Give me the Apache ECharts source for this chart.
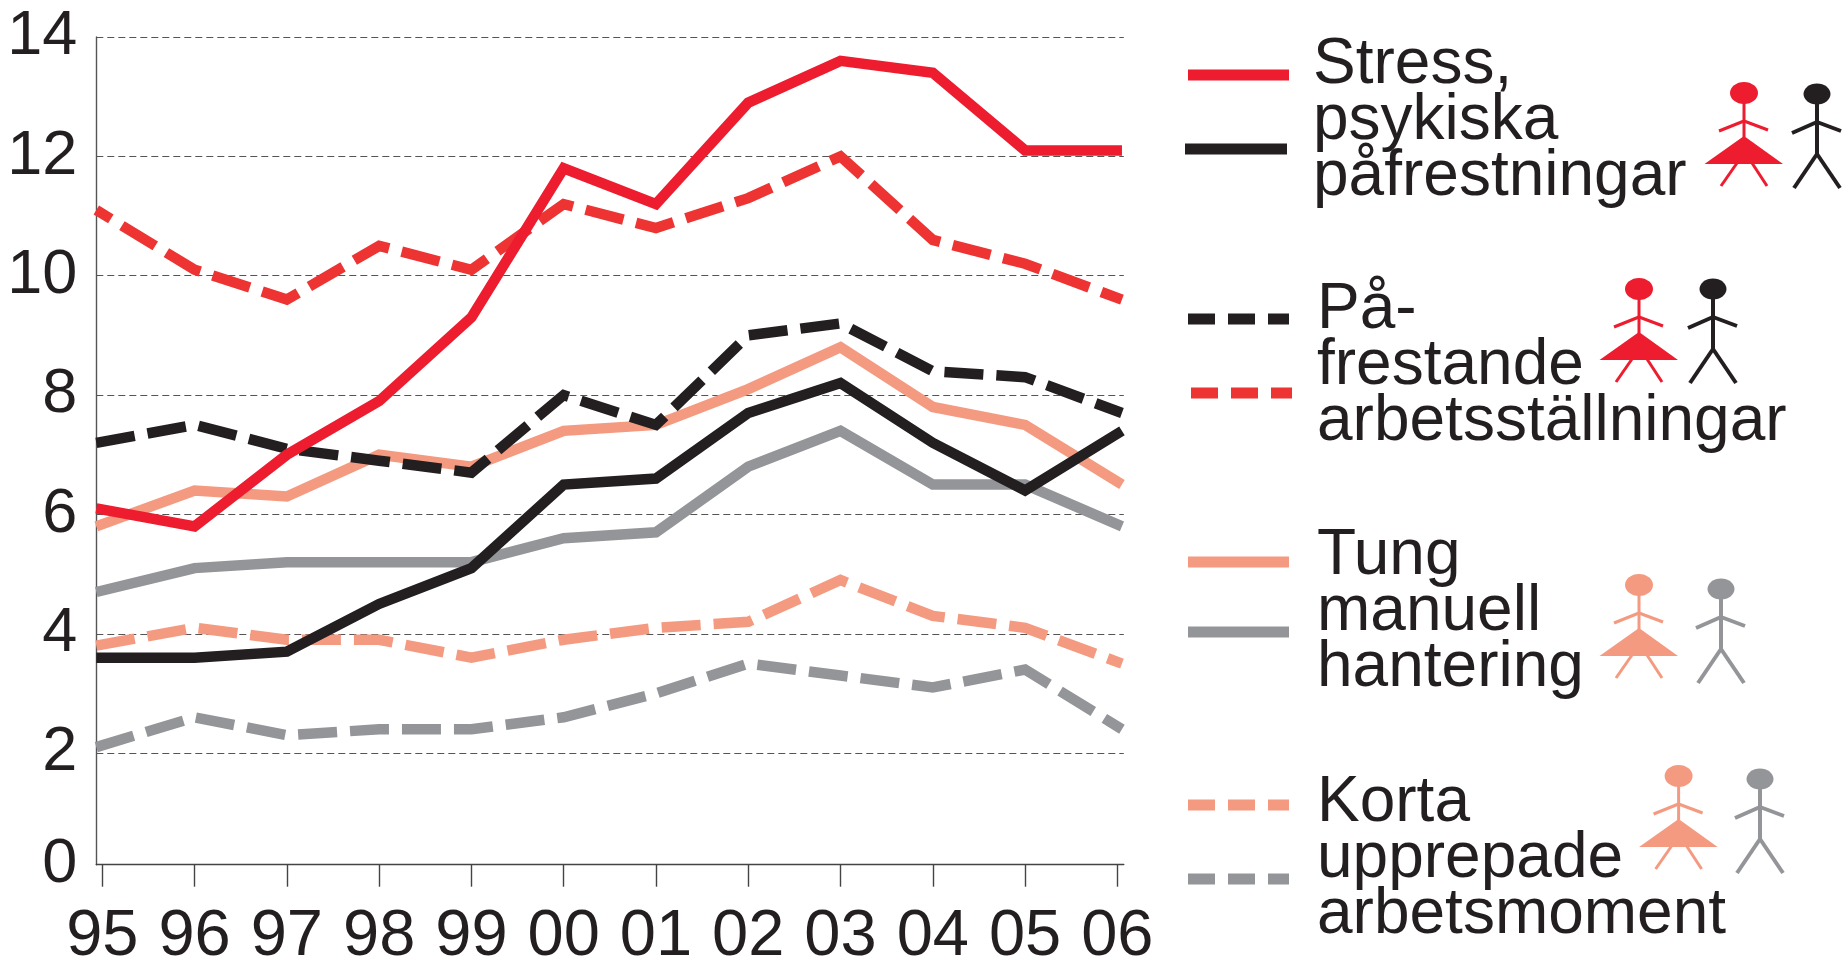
<!DOCTYPE html>
<html>
<head>
<meta charset="utf-8">
<title>Arbetsskador</title>
<script src="https://cdn.jsdelivr.net/npm/echarts@6/dist/echarts.min.js"></script>
<style>
html, body { margin: 0; padding: 0; background: #fff; }
#chart { width: 1843px; height: 956px; }
</style>
</head>
<body>
<div id="chart"></div>
<script>
// the drawn lines run a bit past the first and last tick, hence the odd ends
var lineYears = [94.935, 96, 97, 98, 99, 100, 101, 102, 103, 104, 105, 106.05];
var xTicks = [95, 96, 97, 98, 99, 100, 101, 102, 103, 104, 105, 106];
var xLabels = ['95', '96', '97', '98', '99', '00', '01', '02', '03', '04', '05', '06'];
// bottom of the axis sits a little above true 0 in the original
var yTicks = [0.13, 2, 4, 6, 8, 10, 12, 14];

var stressKvinnor = [6.1, 5.8, 7.0, 7.9, 9.3, 11.8, 11.2, 12.9, 13.6, 13.4, 12.1, 12.1];
var stressMan = [3.6, 3.6, 3.7, 4.5, 5.1, 6.5, 6.6, 7.7, 8.2, 7.2, 6.4, 7.4];
var arbetsstKvinnor = [11.1, 10.1, 9.6, 10.5, 10.1, 11.2, 10.8, 11.3, 12.0, 10.6, 10.2, 9.6];
var arbetsstMan = [7.2, 7.5, 7.1, 6.9, 6.7, 8.0, 7.5, 9.0, 9.2, 8.4, 8.3, 7.7];
var tungKvinnor = [5.8, 6.4, 6.3, 7.0, 6.8, 7.4, 7.5, 8.1, 8.8, 7.8, 7.5, 6.5];
var tungMan = [4.7, 5.1, 5.2, 5.2, 5.2, 5.6, 5.7, 6.8, 7.4, 6.5, 6.5, 5.8];
var kortaKvinnor = [3.8, 4.1, 3.9, 3.9, 3.6, 3.9, 4.1, 4.2, 4.9, 4.3, 4.1, 3.5];
var kortaMan = [2.1, 2.6, 2.3, 2.4, 2.4, 2.6, 3.0, 3.5, 3.3, 3.1, 3.4, 2.4];

var legend1 = ['Stress,', 'psykiska', 'påfrestningar'];
var legend2 = ['På-', 'frestande', 'arbetsställningar'];
var legend3 = ['Tung', 'manuell', 'hantering'];
var legend4 = ['Korta', 'upprepade', 'arbetsmoment'];

var RED = '#ed1c2e';
var RED2 = '#ee3333';
var BLACK = '#231f20';
var SALMON = '#f49a80';
var GRAY = '#939598';
var FONT = '"Liberation Sans", Arial, sans-serif';
var DASH = [39, 13];
var DESCENT = 14;

function makeLine(name, values, color, dashed, offset) {
    return {
        name: name,
        type: 'line',
        symbol: 'none',
        smooth: false,
        data: values.map(function (v, i) { return [lineYears[i], v]; }),
        lineStyle: {
            color: color,
            width: 10.5,
            type: dashed ? DASH : 'solid',
            dashOffset: offset || 0,
            cap: 'butt',
            join: 'miter'
        }
    };
}

function textLines(lines, x, baselines) {
    return lines.map(function (t, i) {
        return {
            type: 'text',
            style: { x: x, y: baselines[i] + DESCENT, text: t, fill: BLACK, font: '64px ' + FONT, verticalAlign: 'bottom' }
        };
    });
}

function keyLine(x1, x2, y, color, dashed) {
    return {
        type: 'line',
        shape: { x1: x1, y1: y, x2: x2, y2: y },
        style: { stroke: color, lineWidth: 11, lineDash: dashed ? [27, 13] : null }
    };
}

function stroke(x1, y1, x2, y2, color, w) {
    return { type: 'line', shape: { x1: x1, y1: y1, x2: x2, y2: y2 }, style: { stroke: color, lineWidth: w } };
}

function woman(hx, hy, color) {
    return {
        type: 'group', x: hx, y: hy,
        children: [
            { type: 'ellipse', shape: { cx: 0, cy: 0, rx: 14, ry: 11 }, style: { fill: color } },
            stroke(0, 10, 0, 44, color, 3),
            stroke(0, 28, -25, 38, color, 3),
            stroke(0, 28, 24, 37, color, 3),
            { type: 'polygon', shape: { points: [[0, 43], [-39.5, 71], [39, 71]] }, style: { fill: color } },
            stroke(-7, 70, -23, 93, color, 3),
            stroke(8, 70, 23, 93, color, 3)
        ]
    };
}

function man(hx, hy, color) {
    return {
        type: 'group', x: hx, y: hy,
        children: [
            { type: 'ellipse', shape: { cx: 0, cy: 0, rx: 13.5, ry: 10.5 }, style: { fill: color } },
            stroke(0, 10, 0, 61, color, 4),
            stroke(0, 28, -25, 39, color, 4),
            stroke(0, 28, 24, 37, color, 4),
            stroke(0, 60, -23, 94, color, 4),
            stroke(0, 60, 23, 94, color, 4)
        ]
    };
}

var chart = echarts.init(document.getElementById('chart'));

var option = {
    animation: false,
    backgroundColor: '#fff',
    grid: { left: 96.3, top: 37, width: 1027.5, height: 827.7, containLabel: false, outerBoundsMode: 'none' },
    xAxis: {
        type: 'value',
        min: 94.935,
        max: 106.07,
        axisLine: { onZero: false, lineStyle: { color: '#444', width: 1.4 } },
        axisTick: { customValues: xTicks, length: 22, lineStyle: { color: '#444', width: 1.4 } },
        axisLabel: {
            customValues: xTicks,
            margin: 40,
            fontSize: 65,
            fontFamily: FONT,
            color: BLACK,
            formatter: function (v) { return xLabels[xTicks.indexOf(v)]; }
        },
        splitLine: { show: false }
    },
    yAxis: {
        type: 'value',
        min: 0.13,
        max: 14,
        axisLine: { show: true, onZero: false, lineStyle: { color: '#555', width: 1.4 } },
        axisTick: { show: false, customValues: yTicks },
        axisLabel: {
            customValues: yTicks,
            margin: 19,
            fontSize: 63,
            fontFamily: FONT,
            color: BLACK,
            padding: [12, 0, 0, 0],
            formatter: function (v) { return String(Math.round(v)); }
        },
        splitLine: { show: true, showMinLine: false, lineStyle: { color: '#555', width: 1, type: [7, 4] } }
    },
    series: [
        makeLine('Korta upprepade arbetsmoment, män', kortaMan, GRAY, true),
        makeLine('Korta upprepade arbetsmoment, kvinnor', kortaKvinnor, SALMON, true),
        makeLine('Tung manuell hantering, män', tungMan, GRAY, false),
        makeLine('Tung manuell hantering, kvinnor', tungKvinnor, SALMON, false),
        makeLine('Stress, män', stressMan, BLACK, false),
        makeLine('Arbetsställningar, män', arbetsstMan, BLACK, true),
        makeLine('Arbetsställningar, kvinnor', arbetsstKvinnor, RED2, true, 22),
        makeLine('Stress, kvinnor', stressKvinnor, RED, false)
    ],
    graphic: [].concat(
        [keyLine(1188, 1289, 75, RED), keyLine(1185, 1287, 149, BLACK)],
        textLines(legend1, 1313, [83, 139, 195]),
        [woman(1744, 93, RED), man(1817, 94, BLACK)],

        [keyLine(1188, 1289, 319, BLACK, true), keyLine(1191, 1292, 393, RED2, true)],
        textLines(legend2, 1317, [328, 384, 440]),
        [woman(1639, 289, RED), man(1713, 289, BLACK)],

        [keyLine(1188, 1289, 562, SALMON), keyLine(1188, 1289, 632, GRAY)],
        textLines(legend3, 1317, [574, 630, 686]),
        [woman(1639, 585, SALMON), man(1721, 589, GRAY)],

        [keyLine(1188, 1289, 805, SALMON, true), keyLine(1188, 1289, 879, GRAY, true)],
        textLines(legend4, 1317, [821, 877, 933]),
        [woman(1678.6, 776, SALMON), man(1760, 779, GRAY)]
    )
};

chart.setOption(option);
</script>
</body>
</html>
